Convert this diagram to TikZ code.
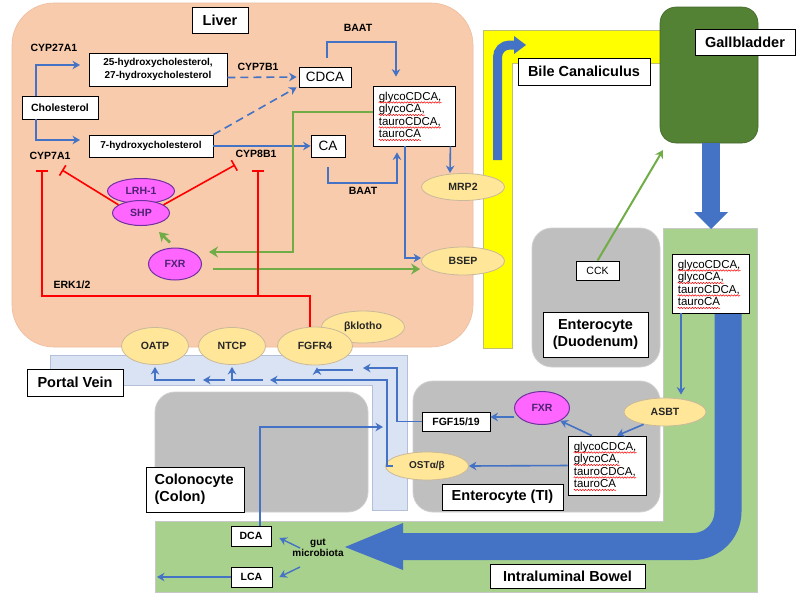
\documentclass[tikz,border=0pt]{standalone}
\usepackage{fontspec}
\setmainfont{Liberation Sans}
\usetikzlibrary{shapes.geometric,arrows.meta,decorations.pathmorphing}
\definecolor{peach}{HTML}{F8CBAD}
\definecolor{peachline}{HTML}{EDBB9B}
\definecolor{yel}{HTML}{FFFF00}
\definecolor{yelline}{HTML}{BFBF6F}
\definecolor{dkgreen}{HTML}{548235}
\definecolor{ltgreen}{HTML}{A9D18E}
\definecolor{portal}{HTML}{DAE3F3}
\definecolor{portalline}{HTML}{B4C0D8}
\definecolor{grayfill}{HTML}{BFBFBF}
\definecolor{grayline}{HTML}{CFCFCF}
\definecolor{ellfill}{HTML}{FFE699}
\definecolor{ellline}{HTML}{C9B99A}
\definecolor{arrblue}{HTML}{4472C4}
\definecolor{arrgreen}{HTML}{70AD47}
\definecolor{inhred}{HTML}{FF0000}
\definecolor{magfill}{HTML}{FF66FF}
\definecolor{magline}{HTML}{7030A0}
\definecolor{regline}{HTML}{C8C8C8}
% box of conjugated bile acids with red wavy underlines
\newcommand\glybox[5]{%
  \node[gly, minimum width=#4pt, minimum height=#5pt] (#1) at (#2,#3) {};
  \node[glytxt] (#1-a) at ([xshift=6pt,yshift=-14.5pt]#1.north west) {glycoCDCA,};
  \node[glytxt] (#1-b) at ([xshift=6pt,yshift=-27pt]#1.north west) {glycoCA,};
  \node[glytxt] (#1-c) at ([xshift=6pt,yshift=-39.5pt]#1.north west) {tauroCDCA,};
  \node[glytxt] (#1-d) at ([xshift=6pt,yshift=-52pt]#1.north west) {tauroCA};
  \foreach \s in {a,b,c,d}{%
    \draw[wavy] ([yshift=-2.4pt]#1-\s.base west) -- ([yshift=-2.4pt]#1-\s.base east);}%
}
\begin{document}
\begin{tikzpicture}[x=1pt,y=-1pt,
 sm/.style={font=\fontsize{10.5}{12}\selectfont\bfseries, inner sep=1pt},
 bx/.style={draw=black, line width=0.8pt, fill=white, inner sep=0pt, align=center},
 big/.style={bx, font=\fontsize{14.5}{17}\selectfont\bfseries},
 smbx/.style={bx, font=\fontsize{10.5}{12}\selectfont\bfseries},
 gly/.style={draw=black, line width=0.8pt, fill=white, inner sep=0pt},
 glytxt/.style={anchor=base west, inner sep=0pt, font=\fontsize{11.5}{12.5}\selectfont},
 wavy/.style={draw=red, line width=0.5pt, decorate, decoration={snake, amplitude=0.7pt, segment length=2.8pt}},
 yelell/.style={ellipse, fill=ellfill, draw=ellline, line width=0.8pt, inner sep=0pt, font=\fontsize{10.5}{12}\selectfont\bfseries, text=black!85},
 magell/.style={ellipse, fill=magfill, draw=magline, line width=1pt, inner sep=0pt, text=magline!70!black, font=\fontsize{10.5}{12}\selectfont\bfseries},
 barrow/.style={draw=arrblue, line width=1.6pt, -{Stealth[length=7.5pt,width=8.5pt]}},
 garrow/.style={draw=arrgreen, line width=2.6pt, -{Stealth[length=9pt,width=11pt]}},
 rbar/.style={draw=inhred, line width=1.6pt, -{Bar[width=12pt,line width=1.6pt]}},
 grayreg/.style={fill=grayfill, draw=grayline, line width=0.8pt, rounded corners=20pt}
]
\useasboundingbox (0,0) rectangle (800,598);
\fill[white] (0,0) rectangle (800,598);

% ---------- regions ----------
\draw[fill=peach, draw=peachline, line width=0.6pt, rounded corners=42pt] (12,3) rectangle (473,347);
\draw[fill=yel, draw=yelline, line width=0.5pt] (483,30) -- (662,30) -- (662,63) -- (512,63) -- (512,348) -- (483,348) -- cycle;
\node[fill=dkgreen, draw=dkgreen!80!black, line width=0.6pt, rounded corners=16pt, minimum width=98pt, minimum height=136pt, inner sep=0pt] (gb) at (709,75) {};
\draw[fill=portal, draw=portalline, line width=0.6pt] (50,355) -- (407,355) -- (407,510) -- (372,510) -- (372,385) -- (50,385) -- cycle;
\draw[grayreg] (155,392) rectangle (368,512);
\draw[grayreg] (532,228) rectangle (660,367);
\draw[grayreg] (413,381) rectangle (660,512);
\draw[fill=ltgreen, draw=regline, line width=0.6pt] (663,228) -- (757,228) -- (757,592) -- (155,592) -- (155,521) -- (663,521) -- cycle;

% bile canaliculus flow arrow
\draw[arrblue, line width=9pt, rounded corners=12pt] (497.5,160) -- (497.5,45) -- (515,45);
\fill[arrblue] (514,36) -- (526,45) -- (514,54) -- cycle;
% gallbladder to bowel arrow
\fill[arrblue] (702,143) rectangle (720,213);
\fill[arrblue] (694,212) -- (728,212) -- (711,229) -- cycle;
% big intraluminal arrow
\draw[arrblue, line width=27pt, rounded corners=35pt] (728,313) -- (728,546.5) -- (402,546.5);
\fill[arrblue] (403,523) -- (345,547) -- (403,570) -- cycle;

% ---------- labels of regions ----------
\node[big, minimum width=56pt, minimum height=26pt] (liverlbl) at (220,20) {Liver};
\node[big, minimum width=132pt, minimum height=27pt] (bilelbl) at (584,71.5) {Bile Canaliculus};
\node[big, minimum width=100pt, minimum height=26pt] (gblbl) at (745,42) {Gallbladder};
\node[big, minimum width=96pt, minimum height=27pt] (portallbl) at (75,382.5) {Portal Vein};
\node[big, minimum width=105pt, minimum height=45pt] (duodlbl) at (595.5,334.5) {Enterocyte\\(Duodenum)};
\node[big, align=left, minimum width=98pt, minimum height=45pt] (colonlbl) at (195,489.5) {Colonocyte\\(Colon)\hspace*{30pt}};
\node[big, minimum width=121pt, minimum height=26pt] (tilbl) at (502.5,497) {Enterocyte (TI)};
\node[big, minimum width=155pt, minimum height=24pt] (bowellbl) at (567.5,576) {Intraluminal Bowel};

% ---------- liver contents ----------
\node[sm] (cyp27) at (54,48) {CYP27A1};
\node[smbx, minimum width=76pt, minimum height=23pt] (chol) at (60,107.5) {Cholesterol};
\node[smbx, font=\fontsize{10}{12.5}\selectfont\bfseries, minimum width=138pt, minimum height=33pt] (hyd25) at (158,69.5) {25-hydroxycholesterol,\\27-hydroxycholesterol};
\node[smbx, font=\fontsize{10}{12}\selectfont\bfseries, minimum width=124pt, minimum height=22pt] (hyd7) at (151,146) {7-hydroxycholesterol};
\node[sm] (cyp7a1) at (50,156) {CYP7A1};
\node[sm] (cyp7b1) at (258,67) {CYP7B1};
\node[sm] (cyp8b1) at (256,154) {CYP8B1};
\node[bx, font=\fontsize{13.5}{15}\selectfont, minimum width=52pt, minimum height=20pt] (cdca) at (325,77) {CDCA};
\node[bx, font=\fontsize{13.5}{15}\selectfont, minimum width=34pt, minimum height=22pt] (ca) at (328,146) {CA};
\node[sm] (baat1) at (358,28) {BAAT};
\node[sm] (baat2) at (363,191) {BAAT};
\glybox{glycoL}{414}{116}{82}{60}
\node[yelell, minimum width=83pt, minimum height=27pt] (mrp2) at (463,187) {MRP2};
\node[yelell, minimum width=83pt, minimum height=28pt] (bsep) at (463,261) {BSEP};
\node[magell, minimum width=67pt, minimum height=25pt] (lrh) at (141,191) {LRH-1};
\node[magell, minimum width=57pt, minimum height=25pt] (shp) at (141,213) {SHP};
\node[magell, minimum width=53pt, minimum height=32pt] (fxrL) at (175,264) {FXR};
\node[sm] (erk) at (72,285) {ERK1/2};
\node[yelell, minimum width=83pt, minimum height=32pt] (bkl) at (363,327) {βklotho};
\node[yelell, minimum width=67pt, minimum height=37pt] (oatp) at (155,346) {OATP};
\node[yelell, minimum width=67pt, minimum height=37pt] (ntcp) at (232,346) {NTCP};
\node[yelell, minimum width=75pt, minimum height=38pt] (fgfr4) at (315,346) {FGFR4};

% liver arrows
\coordinate (t27) at (80,65);
\coordinate (t7) at (80,140);
\draw[barrow] ([xshift=-24pt]chol.north) -- (36,65) -- (t27);
\draw[barrow] ([xshift=-24pt]chol.south) -- (36,140) -- (t7);
\draw[barrow, dash pattern=on 8pt off 5pt] ([yshift=-8pt]hyd25.east) -- ([xshift=-2pt]cdca.west);
\draw[barrow, dash pattern=on 8pt off 5pt] (hyd7.north east) -- ([xshift=-2pt]cdca.south west);
\draw[barrow] (hyd7.east) -- (ca.west);
\draw[barrow] ([xshift=2pt,yshift=9pt]cdca.north) -- (327,42) -- (396,42) -- ([xshift=-18pt,yshift=9pt]glycoL.north);
\draw[barrow] ([yshift=-10pt]ca.south) -- (328,183) -- (397,183) -- ([xshift=-17pt,yshift=-6pt]glycoL.south);
\draw[barrow] ([xshift=-5pt]glycoL.south east) -- (450,173);
\draw[barrow] ([xshift=-9pt]glycoL.south) -- (405,258) -- ([yshift=3pt]bsep.west);
\draw[garrow] ([yshift=4pt]glycoL.west) -- (293,112) -- (293,252) -- ([xshift=7pt,yshift=12pt]fxrL.east);
\draw[garrow] ([xshift=11pt,yshift=-5pt]fxrL.east) -- ([xshift=-1pt,yshift=-8pt]bsep.west);
\draw[garrow] ([xshift=-5pt,yshift=5pt]fxrL.north) -- ([xshift=18pt,yshift=-6pt]shp.south);
\coordinate (bar7a) at (62,170);
\coordinate (bar8b) at (235,165);
\draw[rbar] (shp.160) -- (bar7a);
\draw[rbar] (shp.20) -- (bar8b);
\draw[rbar] ([xshift=-5pt]fgfr4.north) -- (310,296) -- (42,296) -- (42,170);
\draw[rbar] (258,296) -- (258,170);

% ---------- duodenum / gallbladder ----------
\node[smbx, font=\fontsize{10.5}{12}\selectfont, minimum width=43pt, minimum height=19pt] (cck) at (597.5,270.5) {CCK};
\coordinate (gbtip) at (663,150);
\draw[draw=arrgreen, line width=2pt, -{Stealth[length=8pt,width=9pt]}] (cck.north) -- (gbtip);
\glybox{glycoG}{710.5}{283.5}{77}{59}

% ---------- terminal ileum ----------
\node[yelell, minimum width=82pt, minimum height=28pt] (asbt) at (665,412) {ASBT};
\node[magell, minimum width=55pt, minimum height=33pt] (fxrT) at (542,408) {FXR};
\node[smbx, font=\fontsize{10.5}{12}\selectfont\bfseries, minimum width=68pt, minimum height=19pt] (fgf) at (456,421.5) {FGF15/19};
\glybox{glycoT}{607}{465.5}{78}{59}
\node[yelell, font=\fontsize{10}{12}\selectfont\bfseries, minimum width=83pt, minimum height=28pt] (ost) at (427,466) {OSTα/β};

\draw[barrow] ([xshift=-29.5pt]glycoG.south) -- ([xshift=16pt,yshift=3pt]asbt.north);
\draw[barrow] (asbt.210) -- ([xshift=10pt]glycoT.north);
\draw[barrow] ([xshift=-15pt]glycoT.north) -- (fxrT.-35);
\draw[barrow] ([yshift=-9pt]fxrT.west) -- ([yshift=4.5pt]fgf.east);
\draw[barrow] (glycoT.west) -- (ost.east);

% ---------- portal vein connectors ----------
\coordinate (pvA) at (363,368);
\coordinate (pvB) at (353,370);
\coordinate (pvC) at (270,380);
\coordinate (pvD) at (263,380);
\coordinate (pvE) at (225,380);
\coordinate (pvF) at (203,380);
\coordinate (pvG) at (195,380);
\coordinate (pvH) at (383,427);
\draw[barrow] (fgf.west) -- (397,421.5) -- (397,368) -- (pvA);
\draw[barrow] (pvB) -- (317,370) -- ([xshift=2pt,yshift=-2pt]fgfr4.south);
\draw[barrow] ([xshift=8pt]ost.west) -- (387,466) -- (387,380) -- (pvC);
\draw[barrow] (pvD) -- (232,380) -- ([yshift=-2pt]ntcp.south);
\draw[barrow] (pvE) -- (pvF);
\draw[barrow] (pvG) -- (155,380) -- ([yshift=-2pt]oatp.south);

% ---------- colon ----------
\node[smbx, minimum width=40pt, minimum height=20pt] (dca) at (251,536) {DCA};
\node[smbx, minimum width=41pt, minimum height=20pt] (lca) at (251.5,577) {LCA};
\node[sm, font=\fontsize{10}{11.5}\selectfont\bfseries, align=center] (gut) at (318,548) {gut\\microbiota};
\coordinate (lcaout) at (157,577);
\draw[barrow] ([xshift=9pt]dca.north) -- (260,427) -- (pvH);
\draw[barrow, line width=1.4pt] ([xshift=-18pt]gut.center) -- ([xshift=8pt,yshift=-2pt]dca.east);
\draw[barrow, line width=1.4pt] ([xshift=-18pt,yshift=-19pt]gut.center) -- ([xshift=7pt]lca.east);
\draw[barrow] (lca.west) -- (lcaout);
\end{tikzpicture}
\end{document}
